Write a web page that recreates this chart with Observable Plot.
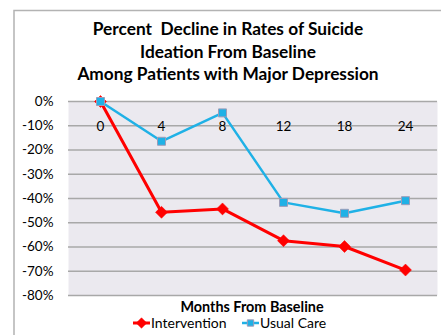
<!DOCTYPE html>
<html><head><meta charset="utf-8">
<script src="https://cdn.jsdelivr.net/npm/d3@7"></script>
<script src="https://cdn.jsdelivr.net/npm/@observablehq/plot@0.6"></script>
<style>body{margin:0;background:#fff} svg{display:block}</style>
</head><body><div id="chart"></div>
<script>
const months = ["0", "4", "8", "12", "18", "24"];
const intervention = [0, -45.7, -44.3, -57.4, -59.8, -69.5];
const usualCare = [0, -16.4, -4.7, -41.6, -46.1, -40.9];
const yTicks = [0, -10, -20, -30, -40, -50, -60, -70, -80];
const seriesNames = ["Intervention", "Usual Care"];
const titleLines = ["Percent  Decline in Rates of Suicide", "Ideation From Baseline", "Among Patients with Major Depression"];
const xTitle = "Months From Baseline";

const RED = "#ff0000", BLUE = "#1fb1e6";
const FONT = "Lato, 'Open Sans', sans-serif";

const intData = months.map((m, i) => ({month: m, value: intervention[i]}));
const ucData = months.map((m, i) => ({month: m, value: usualCare[i]}));

const chart = Plot.plot({
  width: 441, height: 335,
  marginLeft: 68, marginRight: 4, marginTop: 101, marginBottom: 40,
  style: {fontFamily: FONT, fontSize: "13px", color: "#000", background: "#fff", overflow: "visible"},
  x: {type: "point", domain: months, padding: 0.5, axis: null},
  y: {domain: [-80, 0], axis: null},
  marks: [
    Plot.frame({fill: "#ebe9ef", stroke: null}),
    Plot.ruleY(yTicks, {stroke: "#a8a8a8", strokeWidth: 1.5}),
    Plot.text(months, {x: d => d, frameAnchor: "top", dy: 20, fontSize: 13.5, fill: "#000"}),
    Plot.axisY(yTicks, {tickSize: 0, tickPadding: 15, tickFormat: d => d + "%", fontSize: 13.5, label: null}),
    Plot.line(intData, {x: "month", y: "value", stroke: RED, strokeWidth: 3}),
    Plot.dot(intData, {x: "month", y: "value", symbol: "diamond2", r: 5.4, fill: RED, stroke: RED, strokeWidth: 0.5}),
    Plot.line(ucData, {x: "month", y: "value", stroke: BLUE, strokeWidth: 2.5}),
    Plot.dot(ucData, {x: "month", y: "value", symbol: "square", r: 4.5, fill: BLUE, stroke: "#9c9cb8", strokeWidth: 1})
  ]
});
document.getElementById("chart").appendChild(chart);

const svg = d3.select(chart);
// outer chart border (top and left visible)
svg.append("path").attr("d", "M14,335 L14,10.5 L441,10.5").attr("fill", "none").attr("stroke", "#b3b3b3").attr("stroke-width", 1.5);
// title
svg.append("g").selectAll("text").data(titleLines).join("text")
  .attr("x", 228).attr("y", (d, i) => 29 + i * 22.7).attr("dy", "0.35em")
  .attr("text-anchor", "middle").attr("font-weight", "bold").attr("font-size", 17.3)
  .attr("font-family", FONT).attr("fill", "#000").style("white-space", "pre").text(d => d);
// x axis title
svg.append("text").attr("x", 252).attr("y", 307).attr("dy", "0.35em")
  .attr("text-anchor", "middle").attr("font-weight", "bold").attr("font-size", 14.4)
  .attr("font-family", FONT).attr("fill", "#000").text(xTitle);
// legend
const lg = svg.append("g").attr("font-family", FONT).attr("font-size", 14).attr("text-anchor", "start");
const items = [
  {name: seriesNames[0], x: 133, color: RED, sym: d3.symbolDiamond2, size: 70, stroke: RED},
  {name: seriesNames[1], x: 242, color: BLUE, sym: d3.symbolSquare, size: 40, stroke: "#9c9cb8"}
];
items.forEach(it => {
  const g = lg.append("g").attr("transform", `translate(${it.x},323)`);
  g.append("line").attr("x1", 0).attr("y1", 0).attr("x2", 17).attr("y2", 0).attr("stroke", it.color).attr("stroke-width", it.color === RED ? 3 : 2.5);
  g.append("path").attr("d", d3.symbol(it.sym, it.size)()).attr("transform", "translate(8.5,0)").attr("fill", it.color).attr("stroke", it.stroke).attr("stroke-width", it.color === RED ? 0.5 : 1);
  g.append("text").attr("x", 18).attr("dy", "0.35em").attr("text-anchor", "start").attr("fill", "#000").text(it.name);
});
</script>
</body></html>
